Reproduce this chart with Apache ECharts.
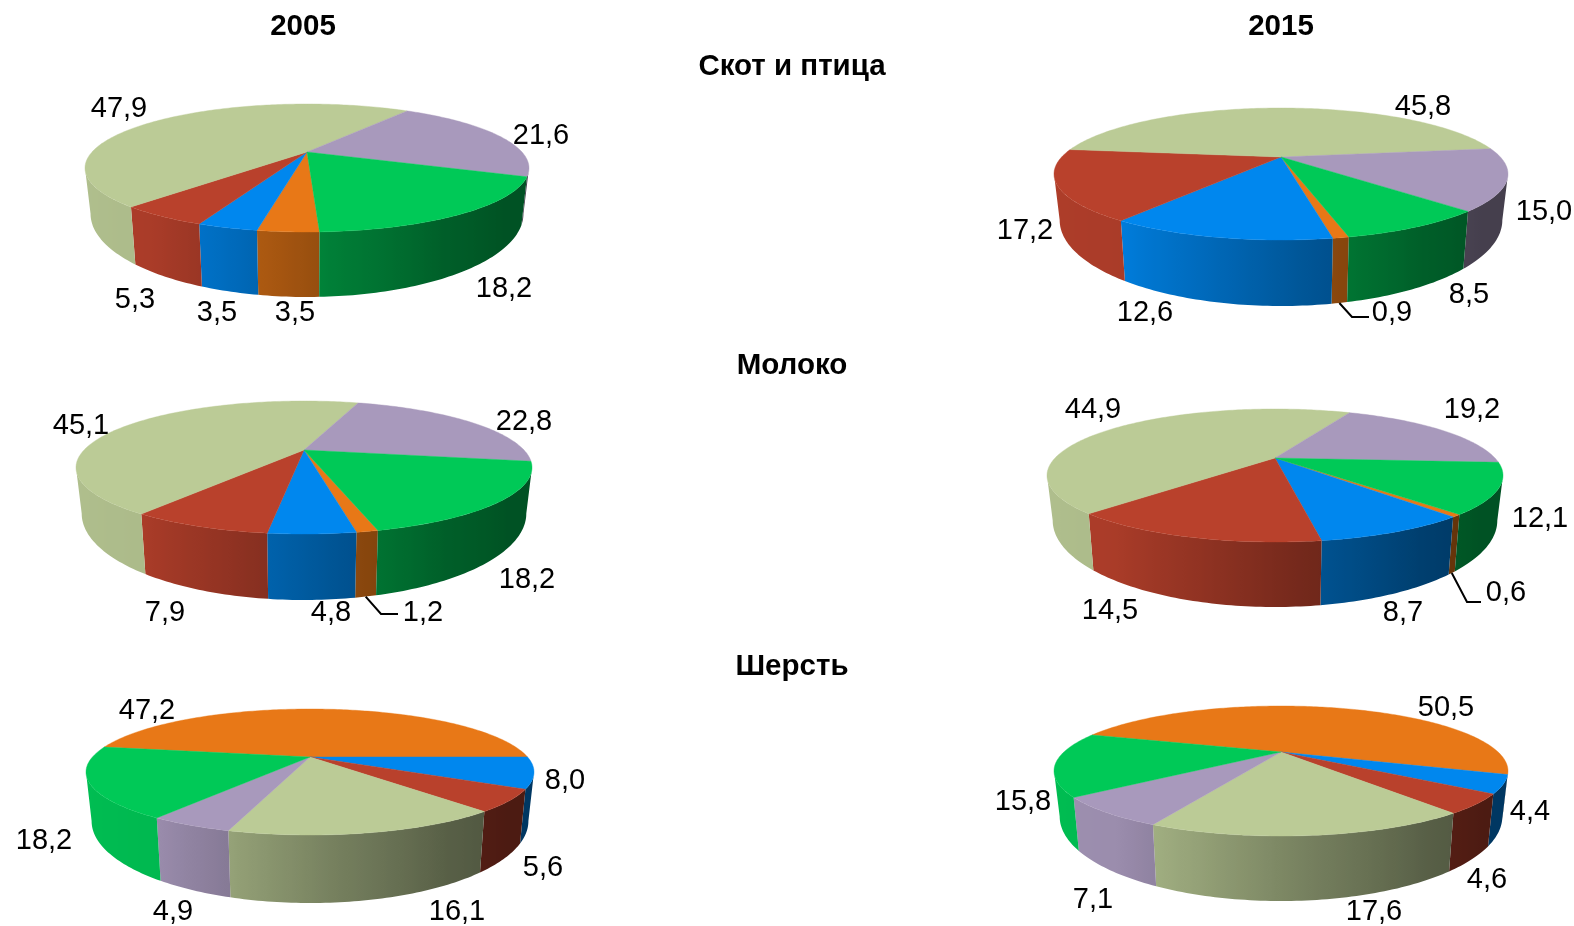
<!DOCTYPE html>
<html><head><meta charset="utf-8">
<style>html,body{margin:0;padding:0;background:#fff}#c{width:1574px;height:926px}</style>
<script src="https://cdn.jsdelivr.net/npm/echarts@6/dist/echarts.min.js"></script>
</head><body><div id="c"></div>
<script>
// Category colours, in the cyclic order the slices follow clockwise.
const sliceColors = ['#E87817', '#0087EE', '#B9412C', '#BBCB96', '#A899BC', '#00C957'];

// Values (%), in the same order as sliceColors.
const cattle2005 = [3.5, 3.5, 5.3, 47.9, 21.6, 18.2];
const cattle2015 = [0.9, 12.6, 17.2, 45.8, 15.0, 8.5];
const milk2005   = [1.2, 4.8, 7.9, 45.1, 22.8, 18.2];
const milk2015   = [0.6, 8.7, 14.5, 44.9, 19.2, 12.1];
const wool2005   = [47.2, 8.0, 5.6, 16.1, 4.9, 18.2];
const wool2015   = [50.5, 4.4, 4.6, 17.6, 7.1, 15.8];

// Column and row headings.
const yearTitles = ['2005', '2015'];
const rowTitles = ['Скот и птица', 'Молоко', 'Шерсть'];

// Layout of each pie: apex position, half width, back/front reach, front wall height, start angle, label centres.
const pies = [
  { name: 'Скот и птица 2005', values: cattle2005, cx: 307, cy: 152, a: 222, back: 48, front: 80, depth: 65, start: 87.5,
    labels: [[295,312],[217,312],[135,299],[119,108],[541,135],[504,288]] },
  { name: 'Скот и птица 2015', values: cattle2015, cx: 1281, cy: 157, a: 227, back: 49, front: 83, depth: 66, start: 76.6,
    labels: [[1392,312],[1145,312],[1025,230],[1423,106],[1544,211],[1469,294]],
    leader: { slice: 0, path: [[1352,317],[1369,317]] } },
  { name: 'Молоко 2005', values: milk2005, cx: 304, cy: 450, a: 228, back: 49, front: 84, depth: 66, start: 75.5,
    labels: [[423,612],[331,612],[165,612],[81,425],[524,421],[527,579]],
    leader: { slice: 0, path: [[381,614],[398,614]] } },
  { name: 'Молоко 2015', values: milk2015, cx: 1275, cy: 458, a: 228, back: 49, front: 84, depth: 65, start: 47.5,
    labels: [[1506,592],[1403,612],[1110,610],[1093,409],[1472,409],[1540,518]],
    leader: { slice: 0, path: [[1467,602],[1481,602]] } },
  { name: 'Шерсть 2005', values: wool2005, cx: 310, cy: 757, a: 224, back: 48, front: 78, depth: 68, start: 190,
    labels: [[147,710],[565,780],[543,867],[457,911],[173,911],[44,840]] },
  { name: 'Шерсть 2015', values: wool2015, cx: 1281, cy: 752, a: 227, back: 46, front: 84, depth: 65, start: 198.2,
    labels: [[1446,707],[1530,811],[1487,879],[1374,911],[1093,899],[1023,801]] }
];

// Wall brightness as a function of the rim angle.
const shadeTable = [[-30,.44],[20,.41],[40,.41],[60,.47],[85,.63],[107,.8],[125,.92],[190,.96],[210,.96]];
function shadeAt(phi) {
  if (phi <= shadeTable[0][0]) return shadeTable[0][1];
  for (let i = 1; i < shadeTable.length; i++) {
    const [x1, y1] = shadeTable[i], [x0, y0] = shadeTable[i - 1];
    if (phi <= x1) return y0 + (y1 - y0) * (phi - x0) / (x1 - x0);
  }
  return shadeTable[shadeTable.length - 1][1];
}
function shaded(hex, f) {
  const n = parseInt(hex.slice(1), 16);
  return 'rgb(' + [(n >> 16) & 255, (n >> 8) & 255, n & 255].map(c => Math.round(c * f)).join(',') + ')';
}
const bottomScaleX = 0.975, bottomScaleY = 1.3;
function perspective(pie) { return (pie.front - pie.back) / (pie.front + pie.back); }
function projector(pie) {
  const p = perspective(pie);
  const H = pie.front * (1 - p), R = pie.a * Math.sqrt(1 - p * p);
  const drop = pie.depth - (bottomScaleY - 1) * pie.front;
  return function (phi, bottom) {
    const t = phi * Math.PI / 180, u = Math.cos(t), v = Math.sin(t), w = 1 - p * v;
    const X = u * R / w, Y = v * H / w;
    return bottom ? [pie.cx + bottomScaleX * X, pie.cy + bottomScaleY * Y + drop] : [pie.cx + X, pie.cy + Y];
  };
}
function sliceAngles(pie, idx) {
  const total = pie.values.reduce((x, y) => x + y, 0);
  let a = pie.start;
  for (let i = 0; i < idx; i++) a += pie.values[i] / total * 360;
  return [a, a + pie.values[idx] / total * 360];
}
function arc(a, b, step) {
  const out = [], n = Math.max(2, Math.ceil((b - a) / step));
  for (let i = 0; i <= n; i++) out.push(a + (b - a) * i / n);
  return out;
}
function makeRenderer(pie) {
  const proj = projector(pie);
  // The rim is seen from its left-most to its right-most point only.
  const edge = Math.asin(perspective(pie)) * 180 / Math.PI;
  return function (params, api) {
    const idx = api.value(1), value = api.value(0), color = sliceColors[idx];
    const [a, b] = sliceAngles(pie, idx);
    const children = [];
    [-360, 0, 360].forEach(k => {
      const from = Math.max(a + k, edge), to = Math.min(b + k, 180 - edge);
      if (to <= from) return;
      const phis = arc(from, to, 1);
      const topPts = phis.map(f => proj(f, false));
      const botPts = phis.map(f => proj(f, true));
      const all = topPts.concat(botPts.slice().reverse());
      const xs = all.map(q => q[0]), minX = Math.min(...xs), maxX = Math.max(...xs);
      const span = Math.max(1, maxX - minX);
      const stops = phis.map((f, i) => ({ offset: Math.min(1, Math.max(0, (topPts[i][0] - minX) / span)), color: shaded(color, shadeAt(f)) }))
        .sort((m, n) => m.offset - n.offset);
      children.push({
        type: 'polygon', z2: 1, shape: { points: all },
        style: { fill: { type: 'linear', x: 0, y: 0, x2: 1, y2: 0, colorStops: stops } }
      });
    });
    const topFace = [[pie.cx, pie.cy]].concat(arc(a, b, 1).map(f => proj(f, false)));
    children.push({ type: 'polygon', z2: 2, shape: { points: topFace }, style: { fill: color, stroke: color, lineWidth: 0.4 } });
    const pos = pie.labels[idx];
    children.push({
      type: 'text', z2: 4, x: pos[0], y: pos[1] + 1,
      style: { text: value.toFixed(1).replace('.', ','), fill: '#000', font: '29px "Liberation Sans", Arial, sans-serif', align: 'center', verticalAlign: 'middle' }
    });
    if (pie.leader && pie.leader.slice === idx) {
      const first = proj((a + b) / 2, true);
      children.push({
        type: 'polyline', z2: 3, shape: { points: [first].concat(pie.leader.path) },
        style: { fill: 'none', stroke: '#000', lineWidth: 2 }
      });
    }
    return { type: 'group', children };
  };
}

const titleStyle = { fontFamily: '"Liberation Sans", Arial, sans-serif', fontWeight: 'bold', fontSize: 29.5, color: '#000' };
function heading(text, x, y) {
  return { text, left: x, top: y, textAlign: 'center', textVerticalAlign: 'middle', padding: 0, textStyle: titleStyle };
}
const chart = echarts.init(document.getElementById('c'), null, { renderer: 'canvas' });
chart.setOption({
  animation: false,
  backgroundColor: '#fff',
  title: [
    heading(yearTitles[0], 303, 27), heading(yearTitles[1], 1281, 27),
    heading(rowTitles[0], 792, 67), heading(rowTitles[1], 792, 366), heading(rowTitles[2], 792, 667)
  ],
  series: pies.map(pie => ({
    type: 'custom', name: pie.name, coordinateSystem: 'none', silent: true,
    renderItem: makeRenderer(pie),
    encode: { value: 0 },
    data: pie.values.map((v, i) => [v, i])
  }))
});
</script></body></html>
